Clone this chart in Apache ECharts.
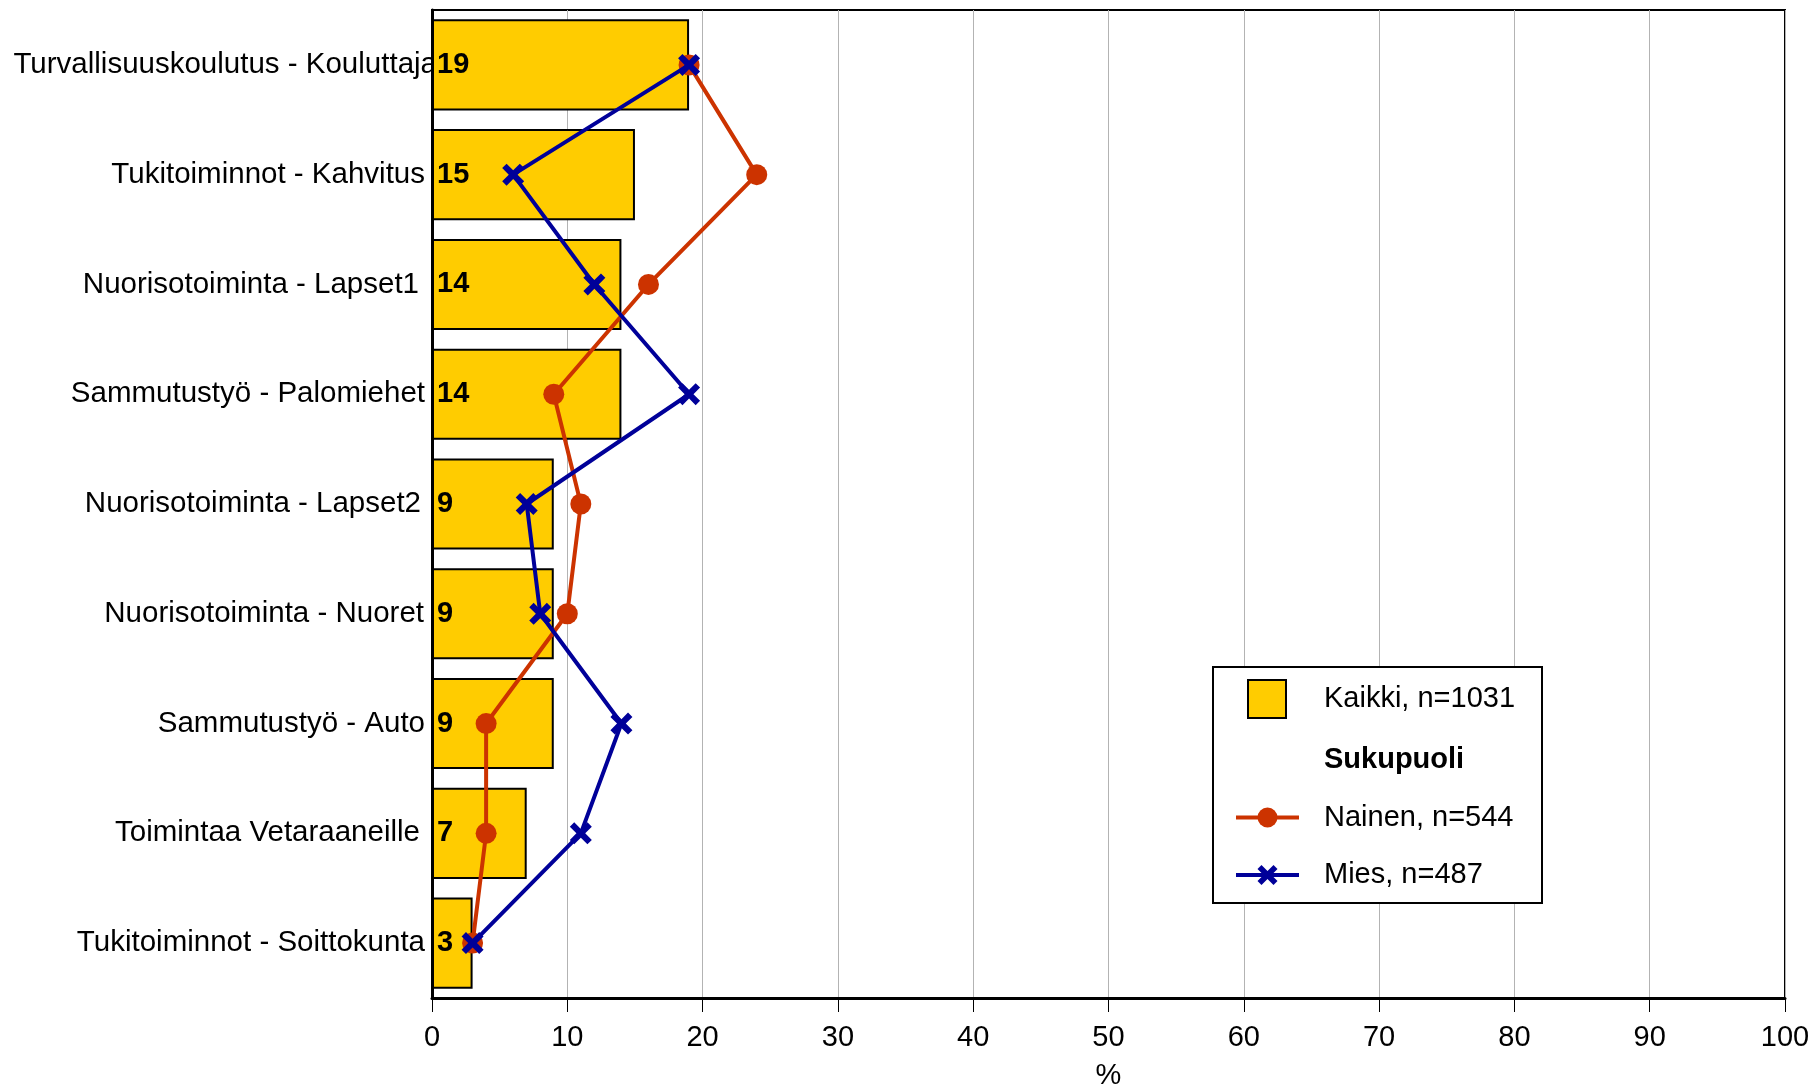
<!DOCTYPE html>
<html>
<head>
<meta charset="utf-8">
<script src="https://cdn.jsdelivr.net/npm/echarts@6/dist/echarts.min.js"></script>
<style>
html,body{margin:0;padding:0;background:#fff;}
#chart{width:1814px;height:1086px;}
</style>
</head>
<body>
<div id="chart"></div>
<script>
const categories = [
  'Turvallisuuskoulutus - Kouluttaja',
  'Tukitoiminnot - Kahvitus',
  'Nuorisotoiminta - Lapset1',
  'Sammutustyö - Palomiehet',
  'Nuorisotoiminta - Lapset2',
  'Nuorisotoiminta - Nuoret',
  'Sammutustyö - Auto',
  'Toimintaa Vetaraaneille',
  'Tukitoiminnot - Soittokunta'
];
const kaikki = [19, 15, 14, 14, 9, 9, 9, 7, 3];
const nainen = [19, 24, 16, 9, 11, 10, 4, 4, 3];
const mies = [19, 6, 12, 19, 7, 8, 14, 11, 3];
const xTicks = { min: 0, max: 100, interval: 10 };
const names = { kaikki: 'Kaikki, n=1031', header: 'Sukupuoli', nainen: 'Nainen, n=544', mies: 'Mies, n=487', axis: '%' };

// label right-padding tweaks (styling only)
const labelPad = [-12, 0, 6, 0, 4, 1, 0, 5, 0];

const FONT = '"Liberation Sans", Arial, Helvetica, sans-serif';
const FS = 29;
const X_PATH = 'path://M0,4 L4,0 L10,6 L16,0 L20,4 L14,10 L20,16 L16,20 L10,14 L4,20 L0,16 L6,10 Z';

const chart = echarts.init(document.getElementById('chart'), null, { renderer: 'canvas' });
chart.setOption({
  animation: false,
  backgroundColor: '#fff',
  textStyle: { fontFamily: FONT },
  grid: {
    left: 432, right: 29, top: 10, bottom: 88,
    outerBoundsMode: 'none',
    containLabel: false,
    show: true, borderColor: '#000', borderWidth: 2, backgroundColor: 'transparent'
  },
  xAxis: {
    type: 'value',
    min: xTicks.min, max: xTicks.max, interval: xTicks.interval,
    name: names.axis, nameLocation: 'middle', nameGap: 63,
    nameTextStyle: { fontSize: FS, color: '#000', fontFamily: FONT },
    axisLine: { show: true, lineStyle: { color: '#000', width: 3 } },
    axisTick: { show: true, length: 14, lineStyle: { color: '#000', width: 1 } },
    axisLabel: { fontSize: FS, color: '#000', margin: 25, fontFamily: FONT },
    splitLine: { show: true, lineStyle: { color: '#b3b3b3', width: 1 } }
  },
  yAxis: {
    type: 'category',
    data: categories.map((c, i) => ({ value: c, textStyle: { padding: [0, labelPad[i], 0, 0] } })),
    inverse: true,
    axisLine: { show: true, lineStyle: { color: '#000', width: 3 } },
    axisTick: { show: false },
    axisLabel: { fontSize: 29.5, color: '#000', margin: 7, fontFamily: FONT },
    splitLine: { show: false }
  },
  graphic: [{
    type: 'rect', z: 3,
    shape: { x: 1213, y: 667, width: 329, height: 236 },
    style: { fill: '#fff', stroke: '#000', lineWidth: 2 }
  }],
  legend: [
    {
      orient: 'vertical', left: 1247, top: 679, padding: 0, z: 5,
      itemWidth: 38, itemHeight: 38, itemGap: 20,
      textStyle: { fontSize: FS, color: '#000', fontFamily: FONT, padding: [0, 0, 0, 33] },
      data: [{ name: names.kaikki, icon: 'rect', itemStyle: { color: '#FFCC00', borderColor: '#000', borderWidth: 2 } }]
    },
    {
      orient: 'vertical', left: 1234, top: 745, padding: 0, z: 5,
      itemWidth: 63, itemHeight: 25, itemGap: 27.5,
      textStyle: { fontSize: FS, color: '#000', fontFamily: FONT, lineHeight: 30, padding: [0, 0, 0, 20] },
      data: [
        { name: names.header, icon: 'rect', itemStyle: { color: 'rgba(0,0,0,0)', borderColor: 'rgba(0,0,0,0)', borderWidth: 0 }, textStyle: { fontWeight: 'bold' } },
        { name: names.nainen, lineStyle: { width: 4, color: '#CC3300' } },
        { name: names.mies, lineStyle: { width: 4, color: '#000099' } }
      ]
    }
  ],
  series: [
    {
      name: names.kaikki,
      type: 'bar',
      data: kaikki,
      barCategoryGap: '17%',
      itemStyle: { color: '#FFCC00', borderColor: '#000', borderWidth: 2 },
      label: {
        show: true, position: 'insideLeft', distance: 5,
        fontSize: FS, fontWeight: 'bold', color: '#000', fontFamily: FONT
      },
      z: 2
    },
    {
      name: names.header,
      type: 'scatter',
      data: []
    },
    {
      name: names.nainen,
      type: 'line',
      data: nainen,
      symbol: 'circle', symbolSize: 21,
      lineStyle: { color: '#CC3300', width: 4 },
      itemStyle: { color: '#CC3300' },
      z: 4
    },
    {
      name: names.mies,
      type: 'line',
      data: mies,
      symbol: X_PATH, symbolSize: 22,
      lineStyle: { color: '#000099', width: 4 },
      itemStyle: { color: '#000099' },
      z: 5
    }
  ]
});
</script>
</body>
</html>
